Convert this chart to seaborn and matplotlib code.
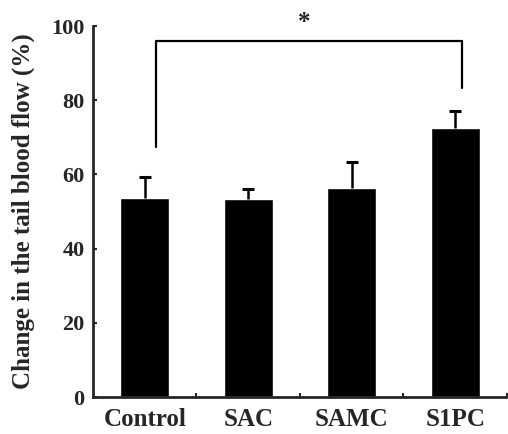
import matplotlib
matplotlib.use("Agg")
import matplotlib.pyplot as plt
from matplotlib.ticker import FixedLocator
import numpy as np
import pandas as pd
import seaborn as sns

# data
groups = ["Control", "SAC", "SAMC", "S1PC"]
means = [53.7, 53.3, 56.3, 72.4]
sems = [5.7, 2.8, 7.1, 4.8]

sns.set_style("ticks")
plt.rcParams["font.family"] = ["Liberation Serif", "DejaVu Serif"]
plt.rcParams["font.weight"] = "bold"

df = pd.DataFrame({"group": groups, "value": means})

fig = plt.figure(figsize=(5.08, 4.34), dpi=100)
ax = fig.add_axes([0.183, 0.085, 0.815, 0.855])

sns.barplot(data=df, x="group", y="value", color="black", width=0.47,
            saturation=1, errorbar=None, ax=ax)

# upper error bars only
xs = np.arange(len(groups))
tops = np.array(means) + np.array(sems)
ax.vlines(xs, means, tops, color="black", lw=1.8)
ax.hlines(tops, xs - 0.06, xs + 0.06, color="black", lw=2.2)

# significance bracket
ax.plot([0.11, 0.11, 3.07, 3.07], [67.5, 96.1, 96.1, 83.3], color="black",
        lw=1.6, clip_on=False)
ax.text(1.54, 97.8, "*", ha="center", va="bottom", fontsize=18,
        fontweight="bold", clip_on=False)

ax.set_xlim(-0.5, 3.5)
ax.set_ylim(0, 100)
ax.set_yticks([0, 20, 40, 60, 80, 100])
ax.set_xlabel("")
ax.set_ylabel("Change in the tail blood flow (%)", fontsize=18, fontweight="bold")
ax.yaxis.set_label_coords(-0.14, 0.5)
ax.tick_params(axis="y", direction="in", length=3, width=1.5, labelsize=16, pad=6)
ax.tick_params(axis="x", which="major", length=0, labelsize=18, pad=8)
ax.xaxis.set_minor_locator(FixedLocator([0.5, 1.5, 2.5, 3.5]))
ax.tick_params(axis="x", which="minor", direction="in", length=3, width=1.5)
for lab in ax.get_xticklabels() + ax.get_yticklabels():
    lab.set_fontweight("bold")

sns.despine(ax=ax)
ax.spines["left"].set_linewidth(2)
ax.spines["bottom"].set_linewidth(2)

fig.savefig("out.png", dpi=100)
